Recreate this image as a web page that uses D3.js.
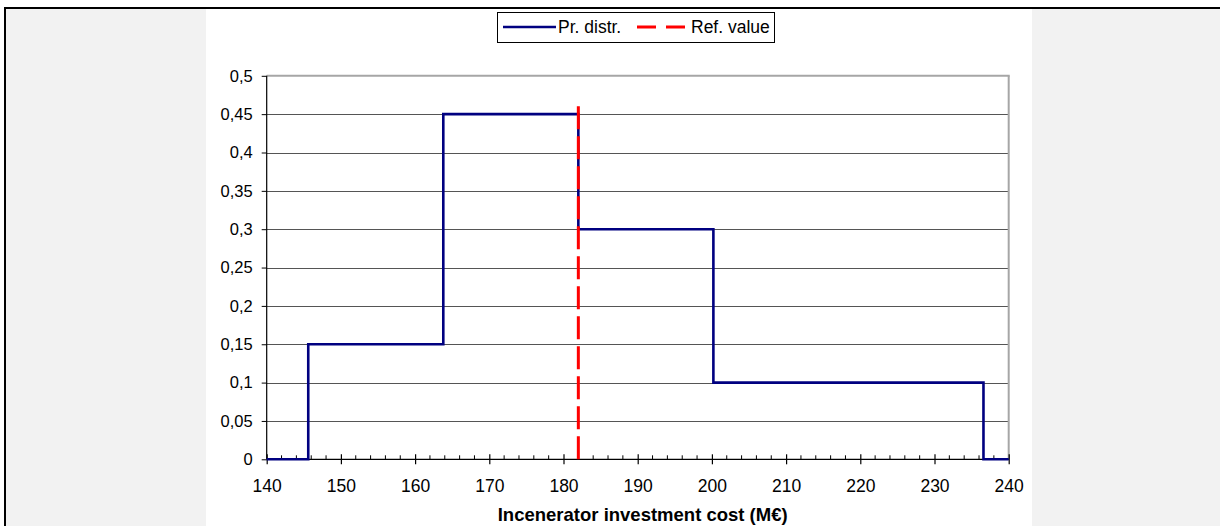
<!DOCTYPE html>
<html>
<head>
<meta charset="utf-8">
<script src="https://cdn.jsdelivr.net/npm/d3@7"></script>
<style>
html,body{margin:0;padding:0;background:#fff;}
svg{display:block;}
text{font-family:"Liberation Sans",Arial,sans-serif;fill:#000;}
</style>
</head>
<body>
<svg id="chart" width="1220" height="526"></svg>
<script>
// ---- data ----
const distX = [140, 145.6, 163.8, 182, 200.2, 236.6, 240];
const distY = [0, 0.15, 0.45, 0.3, 0.1, 0, 0];
const refX = [182, 182];
const refY = [0, 0.465];
const xTickValues = [140, 150, 160, 170, 180, 190, 200, 210, 220, 230, 240];
const yTickValues = [0, 0.05, 0.1, 0.15, 0.2, 0.25, 0.3, 0.35, 0.4, 0.45, 0.5];
const legendLabels = ["Pr. distr.", "Ref. value"];
const xTitle = "Incenerator investment cost (M€)";

const svg = d3.select("#chart");

// frame / background
svg.append("rect").attr("x", 6).attr("y", 8).attr("width", 1214).attr("height", 518).attr("fill", "#fff");
svg.append("rect").attr("x", 6).attr("y", 9).attr("width", 200).attr("height", 517).attr("fill", "#f2f2f2");
svg.append("rect").attr("x", 1032).attr("y", 9).attr("width", 188).attr("height", 517).attr("fill", "#f2f2f2");
svg.append("line").attr("x1", 4).attr("x2", 1220).attr("y1", 8).attr("y2", 8).attr("stroke", "#000").attr("stroke-width", 2);
svg.append("line").attr("x1", 5).attr("x2", 5).attr("y1", 7).attr("y2", 526).attr("stroke", "#000").attr("stroke-width", 2);

const x = d3.scaleLinear().domain([140, 240]).range([266.7, 1008.7]);
const y = d3.scaleLinear().domain([0, 0.5]).range([459.3, 75.8]);

const fmtY = d => d3.format("")(+d.toFixed(2)).replace(".", ",");

// gridlines
svg.append("g").selectAll("line").data(yTickValues.filter(d => d > 0 && d < 0.5)).join("line")
  .attr("x1", x(140)).attr("x2", x(240))
  .attr("y1", d => Math.round(y(d)) + 0.5).attr("y2", d => Math.round(y(d)) + 0.5)
  .attr("stroke", "#555").attr("stroke-width", 1.2);

// plot border top/right (gray)
svg.append("line").attr("x1", x(140)).attr("x2", x(240) + 1).attr("y1", y(0.5)).attr("y2", y(0.5))
  .attr("stroke", "#a6a6a6").attr("stroke-width", 2);
svg.append("line").attr("x1", x(240)).attr("x2", x(240)).attr("y1", y(0.5)).attr("y2", y(0))
  .attr("stroke", "#a6a6a6").attr("stroke-width", 2);

// y axis
const yAxis = d3.axisLeft(y).tickValues(yTickValues).tickFormat(fmtY).tickSize(5).tickPadding(9);
const gy = svg.append("g").attr("transform", `translate(${x(140)},0)`).call(yAxis);
gy.select(".domain").attr("stroke", "#000").attr("stroke-width", 1.2).attr("d", `M0,${y(0.5)}V${y(0)}`);
gy.selectAll(".tick line").attr("stroke", "#000");
gy.selectAll(".tick text").style("font-size", "16.5px").attr("font-family", null);

// x axis minor ticks (inside)
const minor = d3.range(142, 240, 2).filter(v => v % 10 !== 0);
svg.append("g").selectAll("line").data(minor).join("line")
  .attr("x1", d => x(d)).attr("x2", d => x(d))
  .attr("y1", y(0) - 4).attr("y2", y(0))
  .attr("stroke", "#000").attr("stroke-width", 1);

// x axis
const xAxis = d3.axisBottom(x).tickValues(xTickValues).tickFormat(d3.format("d")).tickSize(5).tickPadding(15);
const gx = svg.append("g").attr("transform", `translate(0,${y(0)})`).call(xAxis);
gx.select(".domain").attr("stroke", "#000").attr("stroke-width", 1.2).attr("d", `M${x(140)},0H${x(240)}`);
gx.selectAll(".tick line").attr("stroke", "#000").attr("y1", -5).attr("y2", 5).attr("stroke-width", 1.2);
gx.selectAll(".tick text").style("font-size", "17.5px").attr("font-family", null);

// distribution step line
const line = d3.line().x(d => x(d[0])).y(d => y(d[1])).curve(d3.curveStepAfter);
svg.append("path").datum(distX.map((v, i) => [v, distY[i]]))
  .attr("d", line).attr("fill", "none").attr("stroke", "#000080").attr("stroke-width", 2.6);

// reference line
const refLine = d3.line().x(d => x(d[0])).y(d => y(d[1]));
svg.append("path").datum(refX.map((v, i) => [v, refY[i]]))
  .attr("d", refLine).attr("fill", "none").attr("stroke", "#ff0000").attr("stroke-width", 3)
  .attr("stroke-dasharray", "23,7");

// x title
svg.append("text").attr("x", (x(140) + x(240)) / 2 + 5).attr("y", 521)
  .attr("text-anchor", "middle").style("font-size", "18.5px").style("font-weight", "bold").text(xTitle);

// legend
const lg = svg.append("g");
lg.append("rect").attr("x", 497.5).attr("y", 12.5).attr("width", 277).attr("height", 30)
  .attr("fill", "#fff").attr("stroke", "#000").attr("stroke-width", 1);
lg.append("line").attr("x1", 503).attr("x2", 556).attr("y1", 27).attr("y2", 27)
  .attr("stroke", "#000080").attr("stroke-width", 2.6);
lg.append("text").attr("x", 558).attr("y", 33).style("font-size", "17.5px").text(legendLabels[0]);
lg.append("line").attr("x1", 637).attr("x2", 686).attr("y1", 27).attr("y2", 27)
  .attr("stroke", "#ff0000").attr("stroke-width", 3).attr("stroke-dasharray", "19,10");
lg.append("text").attr("x", 691).attr("y", 33).style("font-size", "17.5px").text(legendLabels[1]);
</script>
</body>
</html>
